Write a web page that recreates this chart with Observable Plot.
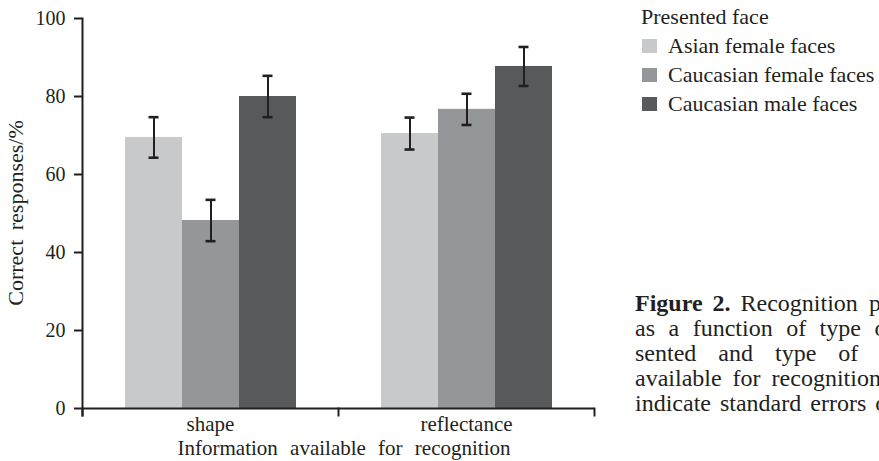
<!DOCTYPE html>
<html><head><meta charset="utf-8">
<script src="https://cdn.jsdelivr.net/npm/d3@7"></script>
<script src="https://cdn.jsdelivr.net/npm/@observablehq/plot@0.6"></script>
<style>
body{margin:0;background:#fff;}
#wrap{position:relative;width:879px;height:461px;overflow:hidden;font-family:"Liberation Serif",serif;color:#231f20;}
#legend{position:absolute;left:641px;top:2px;font-size:22px;line-height:29px;white-space:nowrap;}
#legend .sw{display:inline-block;width:15px;height:14px;margin-left:1px;margin-right:11px;}
#caption{position:absolute;left:635px;top:291px;font-size:24px;line-height:25px;white-space:nowrap;}
#caption b{font-weight:bold;}
#caption .wide{word-spacing:5px;}
#xtitle{position:absolute;left:344px;top:437px;font-size:21px;line-height:22px;word-spacing:7px;white-space:nowrap;transform:translateX(-50%);}
#ytitle{position:absolute;left:15.6px;top:212.5px;font-size:22px;line-height:22px;word-spacing:4px;white-space:nowrap;transform:translate(-50%,-50%) rotate(-90deg);}
</style></head><body><div id="wrap"></div>
<script>
const groups = ["shape", "reflectance"];
const series = ["Asian female faces", "Caucasian female faces", "Caucasian male faces"];
const shapeMeans = [69.5, 48.2, 80.0];
const shapeErrors = [5.2, 5.3, 5.3];
const reflectanceMeans = [70.5, 76.7, 87.7];
const reflectanceErrors = [4.1, 4.0, 5.0];
const colors = ["#c8c9cb", "#95969a", "#58595b"];
const yTicks = [0, 20, 40, 60, 80, 100];
const legendTitle = "Presented face";
const xTitle = "Information available for recognition";
const yTitle = "Correct responses/%";
const captionLines = [
  ["<b>Figure 2.</b> Recognition<span class=\"wide\"> performance</span>", 4],
  ["as a function of type of face pre-", 7.5],
  ["sented and type of information", 16],
  ["available for recognition. Error bars", 5],
  ["indicate standard errors of the mean.", 3]
];

const means = [shapeMeans, reflectanceMeans];
const errors = [shapeErrors, reflectanceErrors];
const rows = [];
groups.forEach((g, gi) => series.forEach((s, si) =>
  rows.push({group: g, series: s, mean: means[gi][si], se: errors[gi][si]})));

const ink = "#231f20";
const chart = Plot.plot({
  width: 879, height: 461,
  marginLeft: 81, marginRight: 285, marginTop: 18, marginBottom: 46,
  style: {fontFamily: "Liberation Serif, serif", fontSize: "20px", color: ink, background: "transparent", overflow: "visible"},
  fx: {domain: groups, padding: 0},
  x: {domain: series, paddingInner: 0, paddingOuter: 0.745, axis: null},
  y: {domain: [0, 100], insetBottom: 7},
  color: {domain: series, range: colors},
  marks: [
    Plot.barY(rows, {fx: "group", x: "series", y: "mean", fill: "series"}),
    Plot.ruleX(rows, {fx: "group", x: "series", y1: d => d.mean - d.se, y2: d => d.mean + d.se, stroke: ink, strokeWidth: 2}),
    Plot.tickY(rows, {fx: "group", x: "series", y: d => d.mean + d.se, stroke: ink, strokeWidth: 2.6, insetLeft: 23.5, insetRight: 23.5}),
    Plot.tickY(rows, {fx: "group", x: "series", y: d => d.mean - d.se, stroke: ink, strokeWidth: 2.6, insetLeft: 23.5, insetRight: 23.5}),
    Plot.ruleY([0], {stroke: ink, strokeWidth: 2}),
    Plot.frame({anchor: "left", facetAnchor: "left", stroke: ink, strokeWidth: 2}),
    Plot.frame({anchor: "left", insetTop: 390, stroke: ink, strokeWidth: 2}),
    Plot.frame({anchor: "right", facetAnchor: "right", insetTop: 390, stroke: ink, strokeWidth: 2}),
    Plot.axisY({ticks: yTicks, tickSize: 8, tickPadding: 9, strokeWidth: 2, fontSize: 20, label: null}),
    Plot.axisFx({anchor: "bottom", tickSize: 0, tickPadding: 1, fontSize: 21, label: null})
  ]
});

const wrap = document.getElementById("wrap");
wrap.appendChild(chart);

const xt = document.createElement("div");
xt.id = "xtitle"; xt.textContent = xTitle; wrap.appendChild(xt);
const yt = document.createElement("div");
yt.id = "ytitle"; yt.textContent = yTitle; wrap.appendChild(yt);

const legend = document.createElement("div");
legend.id = "legend";
legend.innerHTML = `<div>${legendTitle}</div>` + series.map((s, i) =>
  `<div><span class="sw" style="background:${colors[i]}"></span>${s}</div>`).join("");
wrap.appendChild(legend);

const caption = document.createElement("div");
caption.id = "caption";
caption.innerHTML = captionLines.map(([t, ws]) => `<div style="word-spacing:${ws}px">${t}</div>`).join("");
wrap.appendChild(caption);
</script>
</body></html>
